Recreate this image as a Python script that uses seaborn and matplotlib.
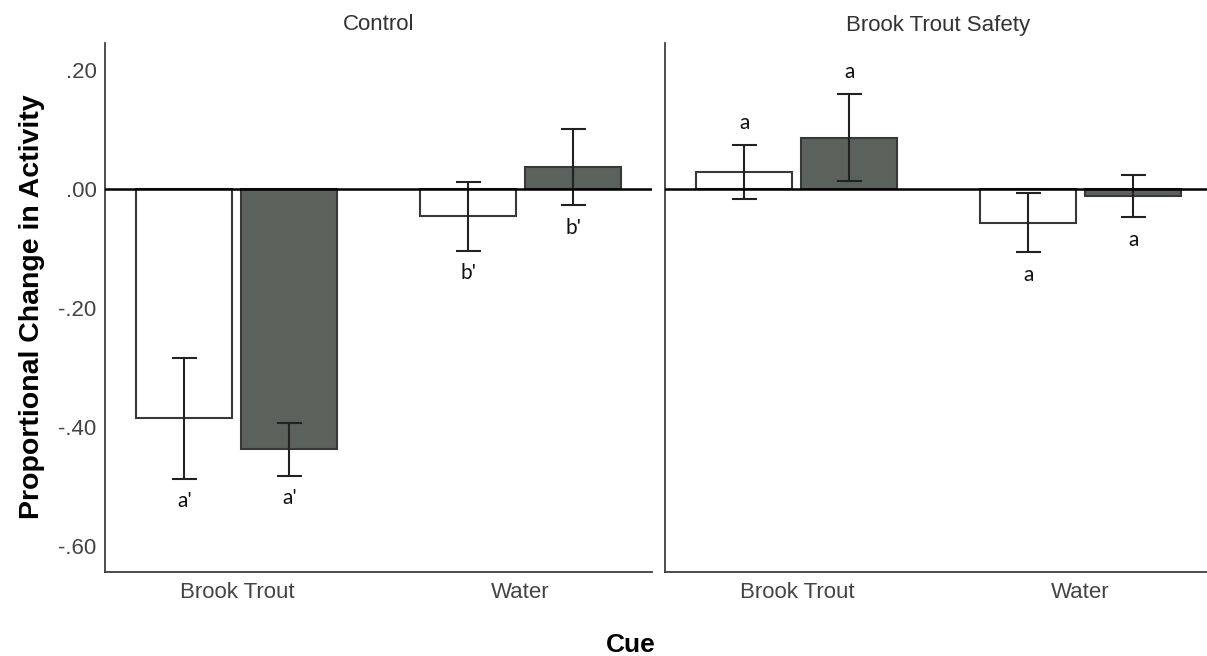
import matplotlib
matplotlib.use("Agg")
import matplotlib.pyplot as plt
import numpy as np
import pandas as pd
import seaborn as sns

sns.set_style("white")
plt.rcParams["font.family"] = ["Liberation Sans", "DejaVu Sans"]

# datos
panels = ["Control", "Brook Trout Safety"]
cues = ["Brook Trout", "Water"]
groups = ["Group A", "Group B"]   # blanco / gris oscuro

control_a = [-0.386, -0.046]
control_b = [-0.438, 0.036]
safety_a = [0.028, -0.057]
safety_b = [0.086, -0.012]

control_a_err = [0.102, 0.058]
control_b_err = [0.044, 0.064]
safety_a_err = [0.045, 0.050]
safety_b_err = [0.073, 0.036]

control_letters = ["a'", "b'"]
safety_letters = ["a", "a"]
# letra arriba o abajo de la barra de error, por cue
control_sides = ["below", "below"]
safety_sides = ["above", "below"]

yticks = [0.20, 0.0, -0.20, -0.40, -0.60]
ytick_labels = [".20", ".00", "-.20", "-.40", "-.60"]

colors = ["#ffffff", "#5b625c"]

rows = []
for panel, a, b, ea, eb in [("Control", control_a, control_b, control_a_err, control_b_err),
                            ("Brook Trout Safety", safety_a, safety_b, safety_a_err, safety_b_err)]:
    for i, cue in enumerate(cues):
        rows.append([panel, cue, groups[0], a[i], ea[i]])
        rows.append([panel, cue, groups[1], b[i], eb[i]])
df = pd.DataFrame(rows, columns=["Panel", "Cue", "Group", "Change", "Err"])

letters = {"Control": control_letters, "Brook Trout Safety": safety_letters}
sides = {"Control": control_sides, "Brook Trout Safety": safety_sides}

W, H = 1207, 656
fig = plt.figure(figsize=(W / 100, H / 100), dpi=100)
ax_bot = 1 - 572 / H
ax_h = (572 - 43) / H
axes = [fig.add_axes([105 / W, ax_bot, 547 / W, ax_h]),
        fig.add_axes([665 / W, ax_bot, 547 / W, ax_h])]

spine_col = "#3f3f3f"
for k, (ax, panel) in enumerate(zip(axes, panels)):
    sub = df[df["Panel"] == panel]
    sns.barplot(data=sub, x="Cue", y="Change", hue="Group", order=cues, hue_order=groups,
                palette=colors, saturation=1, width=0.74, gap=0.085, errorbar=None,
                edgecolor="#383838", linewidth=1.5, legend=False, ax=ax, zorder=2)

    # barras de error y letras
    for g, cont in zip(groups, ax.containers):
        gsub = sub[sub["Group"] == g].set_index("Cue").loc[cues]
        for i, bar in enumerate(cont):
            xc = bar.get_x() + bar.get_width() / 2
            m = gsub["Change"].iloc[i]
            e = gsub["Err"].iloc[i]
            ax.errorbar(xc, m, yerr=e, fmt="none", ecolor="#222222", elinewidth=1.5,
                        capsize=9, capthick=1.5, zorder=4)
            if sides[panel][i] == "above":
                ax.annotate(letters[panel][i], (xc, m + e), xytext=(0, 16), textcoords="offset points",
                            ha="center", va="center", fontsize=15, family=["Lato", "DejaVu Sans"],
                            color="#111111")
            else:
                ax.annotate(letters[panel][i], (xc, m - e), xytext=(0, -16), textcoords="offset points",
                            ha="center", va="center", fontsize=15, family=["Lato", "DejaVu Sans"],
                            color="#111111")

    ax.axhline(0, color="black", lw=1.8, zorder=5)
    ax.set_xlim(-0.465, 1.463)
    ax.set_ylim(-0.644, 0.245)
    ax.set_yticks(yticks)
    ax.set_yticklabels(ytick_labels)
    ax.set_xlabel("")
    ax.set_ylabel("")
    ax.tick_params(axis="both", length=0, labelsize=16, labelcolor="#444444")
    ax.tick_params(axis="x", pad=7.5)
    ax.tick_params(axis="y", pad=6)
    if k == 1:
        ax.tick_params(labelleft=False)
    sns.despine(ax=ax)
    for s in ["left", "bottom"]:
        ax.spines[s].set_color(spine_col)
        ax.spines[s].set_linewidth(1.3)
    ax.set_title(panel, fontsize=16, color="#333333", pad=9)

fig.text(32 / W, 1 - 307 / H, "Proportional Change in Activity", rotation=90,
         ha="center", va="center", fontsize=20.5, fontweight="bold", color="black")
fig.text(631 / W, 1 - 645 / H, "Cue", ha="center", va="center",
         fontsize=19, fontweight="bold", color="black")

fig.savefig("out.png", dpi=100)
